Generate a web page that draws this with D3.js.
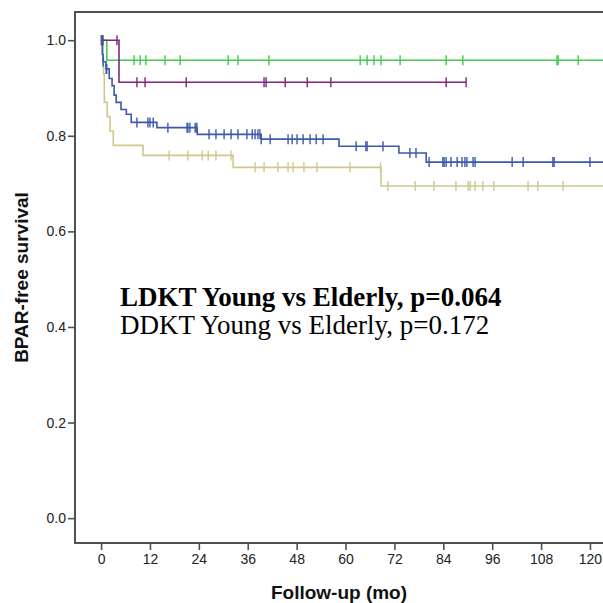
<!DOCTYPE html>
<html>
<head>
<meta charset="utf-8">
<script src="https://cdn.jsdelivr.net/npm/d3@7"></script>
<style>
  body { margin: 0; background: #fff; }
  svg { display: block; }
</style>
</head>
<body>
<div id="chart"></div>
<script>
// ---- data ----
var xTicks = [0, 12, 24, 36, 48, 60, 72, 84, 96, 108, 120];
var yTicks = [0, 0.2, 0.4, 0.6, 0.8, 1.0];

// event times (months) and survival after each event
var yellowT = [0.5, 0.6, 0.8, 1.5, 2.2, 3.0, 10.3, 32.4, 68.7];
var yellowS = [0.96, 0.93, 0.87, 0.84, 0.81, 0.78, 0.759, 0.734, 0.695];
var yellowCens = [16.7, 21.3, 24.8, 26.3, 28.2, 31.9, 37.8, 40.0, 43.4, 45.9, 47.1, 49.8, 53.0, 61.1, 68.6,
                  70.4, 77.1, 81.7, 87.1, 90.1, 90.6, 91.8, 93.7, 96.4, 104.8, 107.2, 113.4];
var yellowEnd = 126;

var greenT = [1.4];
var greenS = [0.958];
var greenCens = [0.5, 8.1, 9.6, 11.0, 15.7, 19.4, 31.2, 33.6, 41.2, 63.6, 65.3, 67.0, 68.7, 73.4, 84.7, 88.8,
                 111.9, 112.2, 117.1];
var greenEnd = 126;

var purpleT = [4.4];
var purpleS = [0.912];
var purpleCens = [0.4, 3.9, 8.8, 10.8, 20.9, 40.0, 40.5, 45.2, 50.6, 56.4, 84.7, 89.6];
var purpleEnd = 89.6;

var blueT = [0.3, 0.5, 1.2, 2.0, 2.7, 3.2, 3.7, 4.9, 6.2, 7.4, 13.7, 23.6, 39.3, 58.4, 73.1, 79.8];
var blueS = [0.97, 0.955, 0.94, 0.92, 0.905, 0.885, 0.87, 0.855, 0.845, 0.828, 0.817, 0.803, 0.793, 0.778, 0.764, 0.745];
var blueCens = [0.05, 0.15, 0.25, 0.5, 1.25, 1.4, 8.8, 11.5, 12.0, 12.8, 16.4, 21.1, 21.3, 21.8, 23.1, 23.5,
                26.5, 28.2, 30.2, 31.9, 33.6, 35.8, 37.1, 37.8, 38.5, 39.0, 39.3, 41.5, 45.9, 46.9, 48.1, 49.6,
                51.3, 52.8, 54.5, 62.6, 65.0, 65.3, 69.2, 75.8, 77.3, 80.5, 83.9, 84.2, 84.7, 85.9, 87.4, 88.6,
                89.3, 89.8, 91.3, 91.8, 100.9, 103.6, 110.9, 111.2, 120.0];
var blueEnd = 126;

var groups = [
    {t: yellowT, s: yellowS, cens: yellowCens, end: yellowEnd, color: "#cfc88e"},
    {t: greenT, s: greenS, cens: greenCens, end: greenEnd, color: "#45ca4f"},
    {t: purpleT, s: purpleS, cens: purpleCens, end: purpleEnd, color: "#7c287d"},
    {t: blueT, s: blueS, cens: blueCens, end: blueEnd, color: "#3e58ac"}
];

// ---- layout ----
var width = 603, height = 603;
var plotLeft = 75, plotRight = 603, plotTop = 12, plotBottom = 543;

var svg = d3.select("#chart").append("svg")
    .attr("width", width)
    .attr("height", height);

var x = d3.scaleLinear().domain([-6.4, 123.2]).range([plotLeft, plotRight]);
var y = d3.scaleLinear().domain([-0.052, 1.059]).range([plotBottom, plotTop]);

svg.append("clipPath").attr("id", "plotClip")
    .append("rect")
    .attr("x", plotLeft).attr("y", plotTop)
    .attr("width", plotRight - plotLeft).attr("height", plotBottom - plotTop);

// survival value at time t
function survAt(g, t) {
    var v = 1;
    for (var i = 0; i < g.t.length; i++) {
        if (g.t[i] <= t) v = g.s[i];
    }
    return v;
}

var line = d3.line()
    .x(function (d) { return x(d[0]); })
    .y(function (d) { return y(d[1]); })
    .curve(d3.curveStepAfter);

var plot = svg.append("g").attr("clip-path", "url(#plotClip)");

groups.forEach(function (g) {
    var pts = [[0, 1]];
    g.t.forEach(function (t, i) { pts.push([t, g.s[i]]); });
    pts.push([g.end, g.s[g.s.length - 1]]);

    plot.append("path")
        .datum(pts)
        .attr("fill", "none")
        .attr("stroke", g.color)
        .attr("stroke-width", 1.6)
        .attr("d", line);

    // censored marks
    plot.selectAll(null)
        .data(g.cens)
        .enter().append("line")
        .attr("x1", function (d) { return x(d); })
        .attr("x2", function (d) { return x(d); })
        .attr("y1", function (d) { return y(survAt(g, d)) - 5; })
        .attr("y2", function (d) { return y(survAt(g, d)) + 5; })
        .attr("stroke", g.color)
        .attr("stroke-width", 1.4);
});

// ---- axes ----
var axisColor = "#505050";

var gy = svg.append("g")
    .attr("transform", "translate(" + plotLeft + ",0)")
    .call(d3.axisLeft(y).tickValues(yTicks).tickFormat(d3.format(".1f")).tickSize(7).tickPadding(2));
var gx = svg.append("g")
    .attr("transform", "translate(0," + plotBottom + ")")
    .call(d3.axisBottom(x).tickValues(xTicks).tickSize(7).tickPadding(4));

[gx, gy].forEach(function (g) {
    g.attr("font-size", null).attr("font-family", null);
    g.select(".domain").remove();
    g.selectAll(".tick line").attr("stroke", axisColor).attr("stroke-width", 1.6);
    g.selectAll(".tick text")
        .attr("fill", "#222")
        .style("font-family", "Liberation Sans, Arial, sans-serif")
        .style("font-size", "14px");
});

// frame lines
svg.append("path")
    .attr("d", "M" + plotRight + "," + plotTop + "H" + plotLeft + "V" + plotBottom + "H" + plotRight)
    .attr("fill", "none")
    .attr("stroke", axisColor)
    .attr("stroke-width", 2);

// axis titles
svg.append("text")
    .attr("x", (plotLeft + plotRight) / 2)
    .attr("y", 599)
    .attr("text-anchor", "middle")
    .attr("font-family", "Liberation Sans, Arial, sans-serif")
    .attr("font-weight", "bold")
    .attr("font-size", "19px")
    .attr("fill", "#111")
    .text("Follow-up (mo)");

svg.append("text")
    .attr("transform", "translate(28," + (plotTop + plotBottom) / 2 + ") rotate(-90)")
    .attr("text-anchor", "middle")
    .attr("font-family", "Liberation Sans, Arial, sans-serif")
    .attr("font-weight", "bold")
    .attr("font-size", "19px")
    .attr("fill", "#111")
    .text("BPAR-free survival");

// annotation
svg.append("text")
    .attr("x", 120)
    .attr("y", 306)
    .attr("font-family", "Liberation Serif, Times New Roman, serif")
    .attr("font-weight", "bold")
    .attr("font-size", "27px")
    .attr("fill", "#000")
    .text("LDKT Young vs Elderly, p=0.064");
svg.append("text")
    .attr("x", 120)
    .attr("y", 334)
    .attr("font-family", "Liberation Serif, Times New Roman, serif")
    .attr("font-size", "27px")
    .attr("fill", "#000")
    .text("DDKT Young vs Elderly, p=0.172");
</script>
</body>
</html>
